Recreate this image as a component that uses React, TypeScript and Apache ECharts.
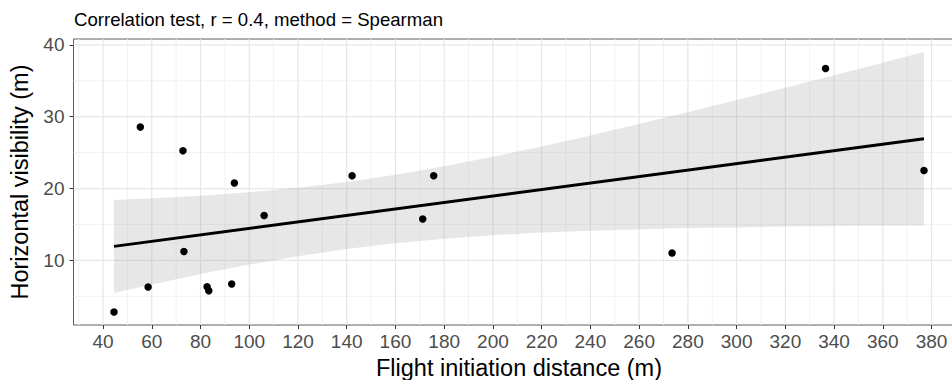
import React, { useEffect, useRef } from "react";
import * as echarts from "echarts";

const FONT = '"Liberation Sans", Arial, Helvetica, sans-serif';

const titleText = "Correlation test, r = 0.4, method = Spearman";
const xAxisTitle = "Flight initiation distance (m)";
const yAxisTitle = "Horizontal visibility (m)";

// Observations
const flightDistance = [44.5, 55.3, 58.5, 72.8, 73.2, 82.7, 83.4, 92.8, 93.9, 106.1, 142.2, 171.2, 175.7, 273.5, 336.5, 376.9];
const visibility = [2.82, 28.55, 6.3, 25.26, 11.25, 6.34, 5.79, 6.72, 20.76, 16.26, 21.78, 15.76, 21.78, 11.03, 36.7, 22.52];

// Fitted line (lm) and its confidence band
const fitX = [44.5, 376.9];
const fitY = [11.95, 26.93];
const ribbonX = [44.5, 60, 80, 100, 120, 140, 160, 180, 200, 220, 240, 280, 320, 360, 376.9];
const ribbonLower = [5.48, 6.66, 8.1, 9.42, 10.58, 11.58, 12.38, 13.01, 13.5, 13.87, 14.14, 14.5, 14.71, 14.84, 14.87];
const ribbonUpper = [18.42, 18.64, 19.0, 19.48, 20.12, 20.92, 21.92, 23.09, 24.42, 25.85, 27.38, 30.62, 34.01, 37.5, 38.99];

// Axes
const xLimits = [27.88, 393.52];
const yLimits = [1.01, 40.81];
const xTicks = [40, 60, 80, 100, 120, 140, 160, 180, 200, 220, 240, 260, 280, 300, 320, 340, 360, 380];
const xMinor = [30, 50, 70, 90, 110, 130, 150, 170, 190, 210, 230, 250, 270, 290, 310, 330, 350, 370, 390];
const yTicks = [10, 20, 30, 40];
const yMinor = [5, 15, 25, 35];

export default function App() {
  const ref = useRef<HTMLDivElement>(null);

  useEffect(() => {
    if (!ref.current) return;
    const chart = echarts.init(ref.current, null, { renderer: "svg" });

    const MAJOR = { stroke: "#E6E6E6", lineWidth: 1.2 };
    const MINOR = { stroke: "#F2F2F2", lineWidth: 1 };

    // grid line items: [value, orientation(0 = vertical, 1 = horizontal), major(1)/minor(0)]
    const gridItems = [
      ...xMinor.map((v) => [v, 0, 0]),
      ...yMinor.map((v) => [v, 1, 0]),
      ...xTicks.map((v) => [v, 0, 1]),
      ...yTicks.map((v) => [v, 1, 1]),
    ];

    const option: any = {
      animation: false,
      textStyle: { fontFamily: FONT },
      title: {
        text: titleText,
        left: 74,
        top: 10,
        padding: 0,
        textStyle: { fontSize: 18.6, fontWeight: "normal", color: "#000", fontFamily: FONT },
      },
      grid: {
        left: 73.5,
        width: 891,
        top: 39,
        height: 286,
        containLabel: false,
        outerBoundsMode: "none",
        show: true,
        borderColor: "#5E5E5E",
        borderWidth: 1,
        backgroundColor: "transparent",
      },
      xAxis: {
        type: "value",
        min: xLimits[0],
        max: xLimits[1],
        splitNumber: 18,
        axisLine: { show: false },
        axisTick: { show: true, length: 4, lineStyle: { color: "#333", width: 1 }, customValues: xTicks },
        axisLabel: { customValues: xTicks, color: "#4D4D4D", fontSize: 19, margin: 7, fontFamily: FONT },
        splitLine: { show: false },
        name: xAxisTitle,
        nameLocation: "middle",
        nameGap: 31,
        nameTextStyle: { fontSize: 23.5, color: "#000", fontFamily: FONT },
      },
      yAxis: {
        type: "value",
        min: yLimits[0],
        max: yLimits[1],
        axisLine: { show: false },
        axisTick: { show: true, length: 4, lineStyle: { color: "#333", width: 1 }, customValues: yTicks },
        axisLabel: { customValues: yTicks, color: "#4D4D4D", fontSize: 19, margin: 9, fontFamily: FONT },
        splitLine: { show: false },
        name: yAxisTitle,
        nameLocation: "middle",
        nameGap: 37,
        nameTextStyle: { fontSize: 23.5, color: "#000", fontFamily: FONT },
      },
      series: [
        {
          type: "custom",
          name: "grid",
          silent: true,
          z: 0,
          clip: true,
          data: gridItems,
          encode: { x: -1, y: -1 },
          renderItem: (params: any, api: any) => {
            const v = api.value(0);
            const orient = api.value(1);
            const major = api.value(2) === 1;
            const cs = params.coordSys;
            let shape;
            if (orient === 0) {
              const x = api.coord([v, yLimits[0]])[0];
              shape = { x1: x, y1: cs.y, x2: x, y2: cs.y + cs.height };
            } else {
              const y = api.coord([xLimits[0], v])[1];
              shape = { x1: cs.x, y1: y, x2: cs.x + cs.width, y2: y };
            }
            return { type: "line", shape, style: major ? MAJOR : MINOR, silent: true };
          },
        },
        {
          type: "custom",
          name: "band",
          silent: true,
          z: 1,
          data: ribbonX.map((x, i) => [x, ribbonLower[i], ribbonUpper[i]]),
          encode: { x: 0, y: [1, 2] },
          renderItem: (params: any, api: any) => {
            if (params.dataIndex !== 0) return null;
            const upper = ribbonX.map((x, i) => api.coord([x, ribbonUpper[i]]));
            const lower = ribbonX.map((x, i) => api.coord([x, ribbonLower[i]])).reverse();
            return {
              type: "polygon",
              shape: { points: upper.concat(lower) },
              style: { fill: "rgba(153,153,153,0.24)" },
              silent: true,
            };
          },
        },
        {
          type: "line",
          name: "fit",
          data: fitX.map((x, i) => [x, fitY[i]]),
          symbol: "none",
          lineStyle: { color: "#000", width: 3 },
          silent: true,
          z: 3,
        },
        {
          type: "scatter",
          name: "points",
          data: flightDistance.map((x, i) => [x, visibility[i]]),
          symbolSize: 7.5,
          itemStyle: { color: "#000", opacity: 1 },
          silent: true,
          z: 4,
        },
      ],
    };

    chart.setOption(option);
    return () => chart.dispose();
  }, []);

  return <div ref={ref} style={{ width: 952, height: 380, position: "absolute", left: 0, top: 0 }} />;
}
